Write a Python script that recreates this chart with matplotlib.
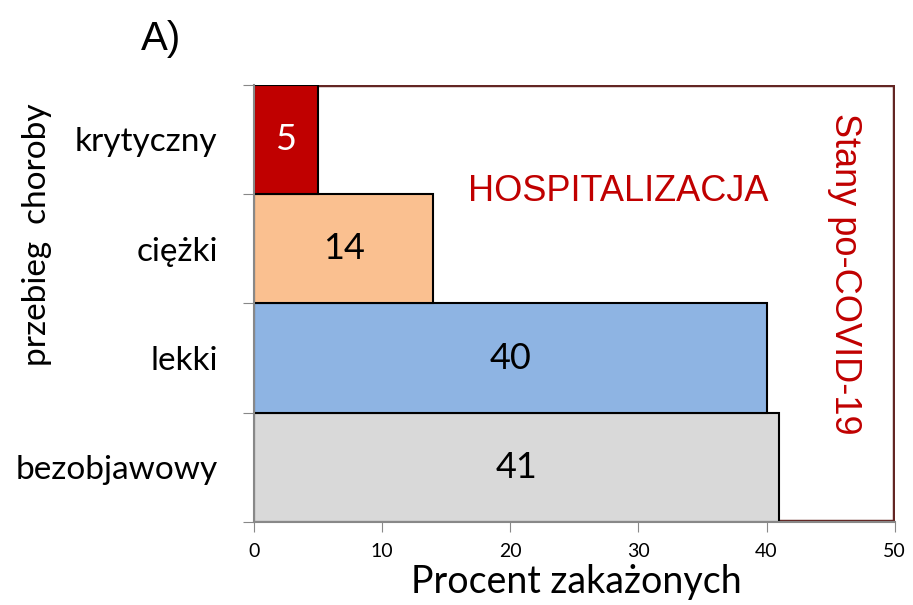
import matplotlib.pyplot as plt
from matplotlib.patches import Rectangle

# kategorie (od dołu) i wartości
categories = ["bezobjawowy", "lekki", "ciężki", "krytyczny"]
values = [41, 40, 14, 5]
colors = ["#d9d9d9", "#8eb4e3", "#fac090", "#c00000"]
label_colors = ["black", "black", "black", "white"]
x_ticks = [0, 10, 20, 30, 40, 50]

plt.rcParams['font.family'] = ['Lato', 'DejaVu Sans']

fig = plt.figure(figsize=(9.13, 6.05), dpi=100)
ax = fig.add_axes([0.278, 0.137, 0.702, 0.723])

pos = list(range(len(categories)))
ax.barh(pos, values, height=1.0, color=colors, edgecolor='black', linewidth=1.5, zorder=2)

for p, v, c in zip(pos, values, label_colors):
    ax.text(v / 2, p, str(v), ha='center', va='center', fontsize=26, color=c, zorder=3)

# ramka "Stany po-COVID-19"
ax.add_patch(Rectangle((0, -0.5), 50, 4, fill=False, edgecolor='#632523', linewidth=3.2, zorder=1))

ax.text(28.4, 2.52, "HOSPITALIZACJA", fontsize=26, color='#c00000',
        family='Liberation Sans', ha='center', va='center')
ax.text(46.1, 1.77, "Stany po-COVID-19", fontsize=26, color='#c00000',
        family='Liberation Sans', ha='center', va='center', rotation=-90)

ax.set_xlim(0, 50)
ax.set_ylim(-0.5, 3.5)
ax.set_xticks(x_ticks)
ax.tick_params(axis='x', labelsize=14, length=7, color='#888888', direction='out', pad=8)
ax.set_yticks([p - 0.5 for p in pos] + [3.5])
ax.set_yticklabels([])
ax.set_yticks(pos, minor=True)
ax.set_yticklabels(categories, minor=True, fontsize=24)
ax.tick_params(axis='y', which='minor', length=0, pad=26)
ax.tick_params(axis='y', which='major', length=8, color='#888888')

for s in ['top', 'right']:
    ax.spines[s].set_visible(False)
for s in ['left', 'bottom']:
    ax.spines[s].set_color('#888888')
    ax.spines[s].set_linewidth(1.5)

# opis osi x
fig.text(0.631, 0.02, "Procent zakażonych", fontsize=27, ha='center', va='baseline')
fig.text(0.04, 0.612, "przebieg  choroby", fontsize=24, rotation=90, ha='center', va='center')

fig.text(0.176, 0.935, "A)", fontsize=29, ha='center', va='center', family='Liberation Sans')

fig.savefig("out.png", dpi=100)
